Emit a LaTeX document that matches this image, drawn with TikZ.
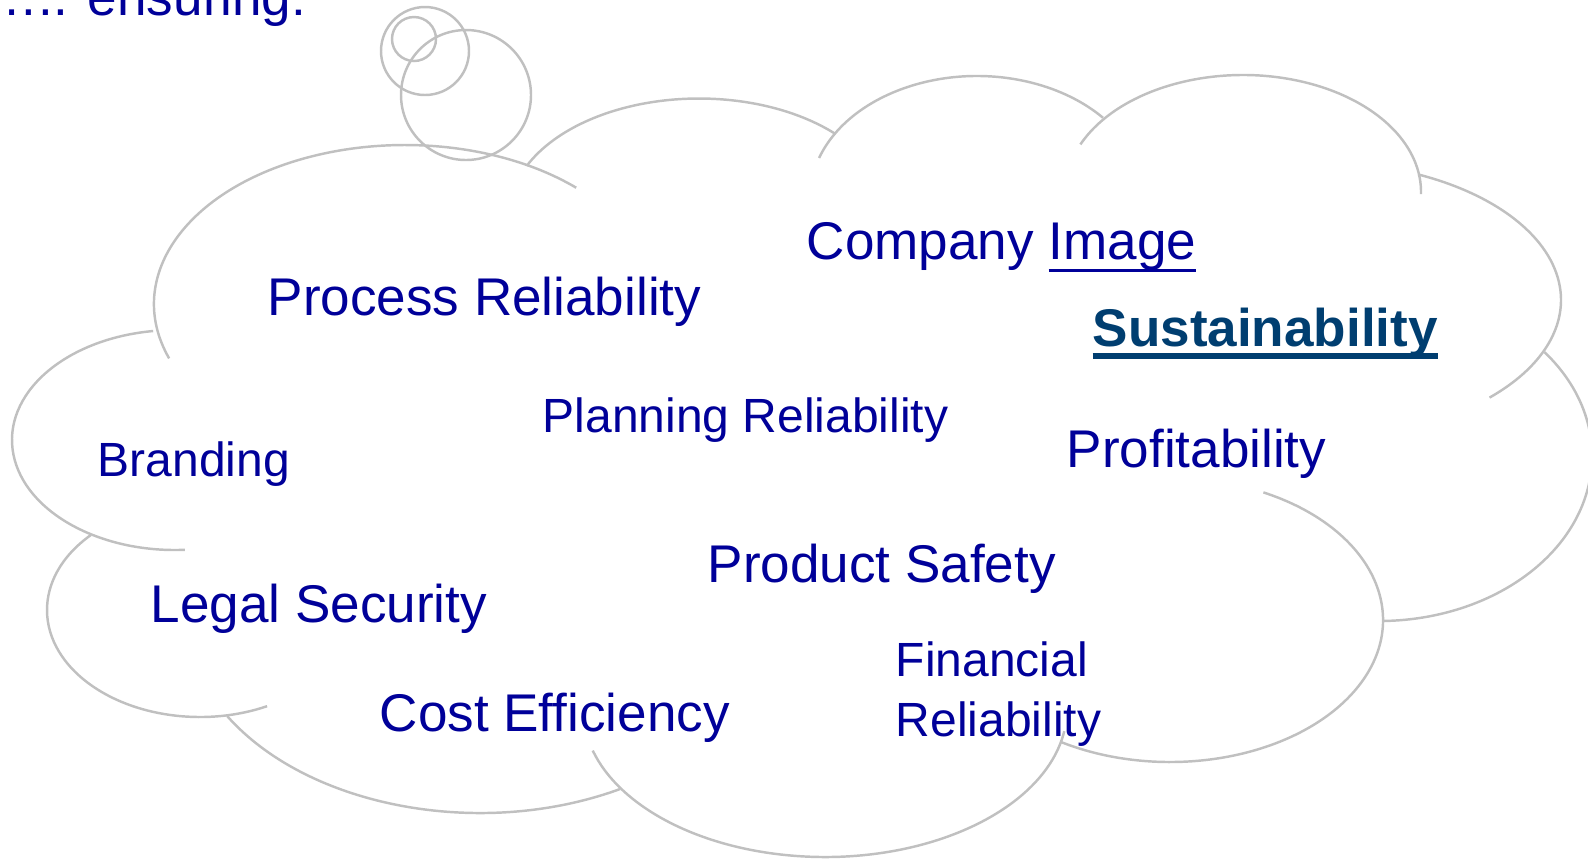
\documentclass[tikz,border=0pt]{standalone}
\usepackage{fontspec}
\setmainfont{Liberation Sans}

\definecolor{textblue}{RGB}{0,0,153}
\definecolor{sustblue}{RGB}{0,62,112}
\definecolor{cloudgray}{RGB}{192,192,192}

% one lobe of the cloud: centre, x radius, y radius, start, end
\newcommand{\cloudlobe}[5]{%
  \draw[cloudline] (#1) ++(#4:#2 and #3)
    arc[start angle=#4, end angle=#5, x radius=#2, y radius=#3];}
% underlined word: rule thickness, gap below baseline, text
\newcommand{\ulword}[3]{%
  \setbox0=\hbox{#3}\rlap{\vrule width\wd0 height -#2 depth \dimexpr#2+#1\relax}\box0}

\begin{document}
\begin{tikzpicture}[
  cloudline/.style={draw=cloudgray, line width=0.7pt},
  word/.style={inner sep=0pt, anchor=base west, text=textblue,
    font=\fontsize{15.1}{18}\selectfont},
  smallword/.style={word, font=\fontsize{13.66}{16.8}\selectfont},
]
\useasboundingbox (0,0) rectangle (15.88,-8.59);
\clip (0,0) rectangle (15.88,-8.59);

\cloudlobe{4.05,-3.04}{2.51}{1.59}{200}{47}
\cloudlobe{6.99,-2.15}{1.90}{1.165}{155}{44}
\cloudlobe{9.77,-1.975}{1.67}{1.215}{161}{41}
\cloudlobe{12.43,-1.92}{1.78}{1.17}{156}{-1}
\cloudlobe{13.17,-3.00}{2.44}{1.38}{65.5}{-45}
\cloudlobe{13.79,-4.56}{2.13}{1.65}{39}{-89}
\cloudlobe{11.70,-6.20}{2.13}{1.42}{64}{-121}
\cloudlobe{8.25,-7.09}{2.42}{1.48}{-8.6}{-163.7}
\cloudlobe{4.80,-6.13}{2.95}{2.00}{-61.7}{-149}
\cloudlobe{2.00,-6.10}{1.53}{1.07}{135.6}{296}
\cloudlobe{1.75,-4.40}{1.63}{1.10}{97.7}{273.5}

% thought bubbles
\draw[cloudline] (4.66,-0.95) circle[radius=0.65];
\draw[cloudline] (4.25,-0.51) circle[radius=0.44];
\draw[cloudline] (4.14,-0.39) circle[radius=0.22];

\node[word, anchor=base east] (intro) at (3.07,-0.15) {….. ensuring:};

\node[word] (process) at (2.67,-3.15) {Process Reliability};
\node[word] (image) at (8.06,-2.59) {Company \ulword{0.85pt}{2.85pt}{Image}};
\node[word, text=sustblue, font=\fontsize{15.1}{18}\selectfont\bfseries] (sust)
  at (10.92,-3.467) {\ulword{1.7pt}{1.8pt}{Sustainability}};
\node[smallword] (planning) at (5.42,-4.32) {Planning Reliability};
\node[smallword] (branding) at (0.97,-4.76) {Branding};
\node[word] (profit) at (10.66,-4.67) {Profitability};
\node[word] (safety) at (7.07,-5.82) {Product Safety};
\node[word] (legal) at (1.50,-6.22) {Legal Security};
\node[word] (cost) at (3.79,-7.31) {Cost Efficiency};
\node[smallword, align=left] (finance) at (8.95,-7.36) {Financial\\Reliability};
\end{tikzpicture}
\end{document}
